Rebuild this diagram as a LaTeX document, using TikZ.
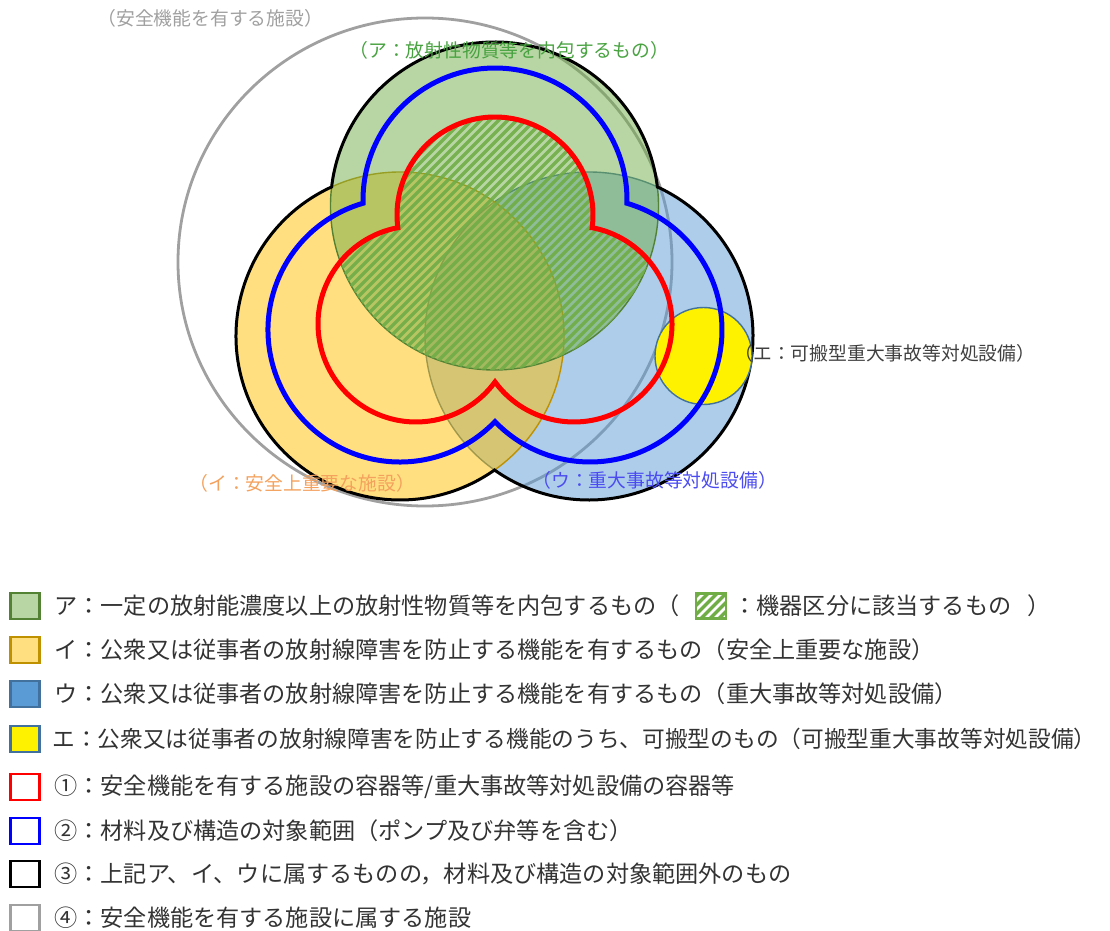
\documentclass[tikz,border=0pt]{standalone}
\usepackage{fontspec}
\newfontfamily\jp{Noto Sans CJK JP}
\usetikzlibrary{calc}
\definecolor{grayC}{HTML}{A0A0A0}
\definecolor{grnF}{HTML}{70AD47}
\definecolor{grnD}{HTML}{548235}
\definecolor{orgF}{HTML}{FFC000}
\definecolor{orgD}{HTML}{BF9000}
\definecolor{bluF}{HTML}{5B9BD5}
\definecolor{bluD}{HTML}{41719C}
\definecolor{legT}{HTML}{333333}
\definecolor{labG}{HTML}{47A23F}
\definecolor{labO}{HTML}{F4A15D}
\definecolor{labB}{HTML}{4B4BF0}
\definecolor{labK}{HTML}{404040}
\definecolor{grnLeg}{HTML}{B8D6A3}
\definecolor{orgLeg}{HTML}{FFDF80}
\begin{document}
\begin{tikzpicture}[x=0.5pt,y=0.5pt,
  lbl/.style={font=\jp\fontsize{9.4pt}{11pt}\selectfont, inner sep=0pt, anchor=west},
  leg/.style={font=\jp\fontsize{11.58pt}{13pt}\selectfont, text=legT, inner sep=0pt, anchor=west},
  legbox/.style={minimum width=14.5pt, minimum height=13pt, inner sep=0pt, line width=1.2pt},
  circfill/.style={fill opacity=0.5, draw opacity=1, line width=0.7pt},
  hatchline/.style={draw=grnF, line width=1.7pt, draw opacity=0.9},
  trefoil/.style={line width=2.5pt, line join=miter}
]
\useasboundingbox (0,0) rectangle (1110,-931);

% coordinates
\coordinate (G) at (494.5,-206);
\coordinate (O) at (400,-336);
\coordinate (B) at (589,-336);
\coordinate (RT) at (495,-215);
\coordinate (RL) at (416,-324);
\coordinate (RR) at (574,-324);
\coordinate (BT) at (495,-200);
\coordinate (BL) at (400,-330);
\coordinate (BR) at (590,-330);
\coordinate (Y) at (703.5,-356);
\coordinate (S) at (425,-262);

% (4) safety facility circle
\draw[grayC, line width=1.4pt] (S) ellipse[x radius=247, y radius=244];

% colored circles
\draw[circfill, fill=bluF, draw=bluD] (B) circle[radius=164];
\draw[circfill, fill=orgF, draw=orgD] (O) circle[radius=164];
\draw[circfill, fill=grnF, draw=grnD] (G) circle[radius=164];

% (3) black union outline
\draw[black, line width=1.5pt, line join=miter]
  ($(G)+(6.67:164)$) arc[start angle=6.67, end angle=173.33, radius=164]
  arc[start angle=114.65, end angle=305.19, radius=164]
  arc[start angle=234.81, end angle=425.35, radius=164] -- cycle;

% hatch: A within (1)
\begin{scope}
  \clip (G) circle[radius=164];
  \clip (RT) circle[radius=98] (RL) circle[radius=98] (RR) circle[radius=98];
  \foreach \k in {-30,-21,...,700} {
    \draw[hatchline] (\k,-460) -- ++(380,380);
  }
\end{scope}

% E portable circle
\draw[fill=yellow, draw=bluD, line width=0.7pt] (Y) circle[radius=48.5];

% (2) blue trefoil
\draw[trefoil, draw={rgb,255:red,0;green,0;blue,255}]
  ($(BT)+(-1.42:132)$) arc[start angle=-1.42, end angle=181.42, radius=132]
  arc[start angle=106.26, end angle=316.03, radius=132]
  arc[start angle=223.97, end angle=433.74, radius=132] -- cycle;

% (1) red trefoil
\draw[trefoil, draw={rgb,255:red,255;green,0;blue,0}]
  ($(RT)+(-7.44:98)$) arc[start angle=-7.44, end angle=187.44, radius=98]
  arc[start angle=100.70, end angle=323.72, radius=98]
  arc[start angle=216.28, end angle=439.30, radius=98] -- cycle;

% diagram labels
\node[lbl, text=grayC] (lab4) at (97,-18) {（安全機能を有する施設）};
\node[lbl, text=labG] (labA) at (349,-50) {（ア：放射性物質等を内包するもの）};
\node[lbl, text=labK] (labE) at (734,-353) {（エ：可搬型重大事故等対処設備）};
\node[lbl, text=labO] (labI) at (189,-483) {（イ：安全上重要な施設）};
\node[lbl, text=labB] (labU) at (532,-480) {（ウ：重大事故等対処設備）};

% legend boxes
\node[legbox, draw=grnD, fill=grnLeg] (b1) at (25,-606) {};
\node[legbox, draw=orgD, fill=orgLeg] (b2) at (25,-650) {};
\node[legbox, draw=bluD, fill=bluF] (b3) at (25,-694) {};
\node[legbox, draw=bluD, fill=yellow] (b4) at (25,-739) {};
\node[legbox, draw={rgb,255:red,255;green,0;blue,0}, fill=white] (b5) at (25,-787) {};
\node[legbox, draw={rgb,255:red,0;green,0;blue,255}, fill=white] (b6) at (25,-831) {};
\node[legbox, draw=black, fill=white] (b7) at (25,-874) {};
\node[legbox, draw=grayC, fill=white] (b8) at (25,-918) {};

% legend texts
\node[leg] (t1) at (54,-606) {ア：一定の放射能濃度以上の放射性物質等を内包するもの（};
\node[legbox, minimum width=15pt, minimum height=12.5pt, draw=grnF, fill=white,
  path picture={\foreach \k in {-40,-31,...,40} {\draw[grnF, line width=1.6pt] ($(path picture bounding box.south west)+(\k,0)$) -- ++(40,40);}}]
  (hic) at (711,-606) {};
\node[leg] (t1b) at (733,-606) {：機器区分に該当するもの\hspace{0.7em}）};
\node[leg] (t2) at (54,-650) {イ：公衆又は従事者の放射線障害を防止する機能を有するもの（安全上重要な施設）};
\node[leg] (t3) at (54,-694) {ウ：公衆又は従事者の放射線障害を防止する機能を有するもの（重大事故等対処設備）};
\node[leg, font=\jp\fontsize{11.35pt}{13pt}\selectfont] (t4) at (52,-739) {エ：公衆又は従事者の放射線障害を防止する機能のうち、可搬型のもの（可搬型重大事故等対処設備\makebox[0.5em][l]{）}};
\node[leg] (t5) at (54,-787) {①：安全機能を有する施設の容器等/重大事故等対処設備の容器等};
\node[leg] (t6) at (54,-831) {②：材料及び構造の対象範囲（ポンプ及び弁等を含む）};
\node[leg] (t7) at (54,-874) {③：上記ア、イ、ウに属するものの，材料及び構造の対象範囲外のもの};
\node[leg] (t8) at (54,-918) {④：安全機能を有する施設に属する施設};
\end{tikzpicture}
\end{document}
